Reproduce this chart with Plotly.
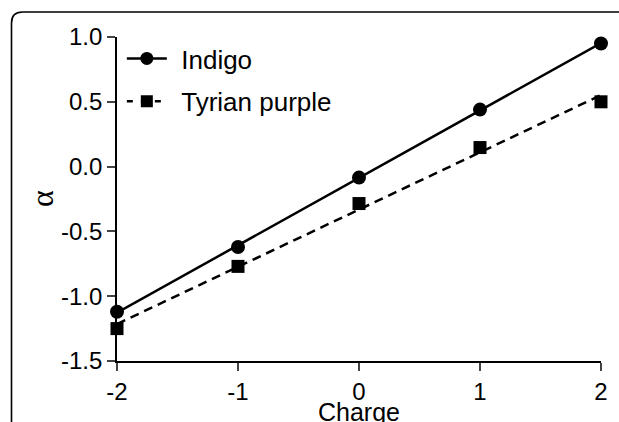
import numpy as np
import plotly.graph_objects as go

charge = [-2, -1, 0, 1, 2]
indigo = [-1.12, -0.62, -0.085, 0.44, 0.95]
tyrian = [-1.25, -0.77, -0.285, 0.147, 0.50]
x_ticks = [-2, -1, 0, 1, 2]
x_labels = ["-2", "-1", "0", "1", "2"]
y_ticks = [-1.5, -1.0, -0.5, 0.0, 0.5, 1.0]
y_labels = ["-1.5", "-1.0", "-0.5", "0.0", "0.5", "1.0"]
x_title = "Charge"
y_title = "α"

W, H = 619, 422
ML, MR, MT, MB = 117, 18, 37, 61
FONT = "Liberation Sans, Arial, sans-serif"
FS = 24

def fit(x, y):
    k, b = np.polyfit(x, y, 1)
    xs = np.array([min(x), max(x)])
    return xs, k * xs + b

fig = go.Figure()
for name, ys, dash, sym, grp in [("Indigo", indigo, "solid", "circle", "a"),
                                 ("Tyrian purple", tyrian, "dash", "square", "b")]:
    fx, fy = fit(charge, ys)
    fig.add_trace(go.Scatter(x=fx, y=fy, mode="lines", showlegend=False,
                             line=dict(color="black", width=2.5, dash="9px,6px" if dash == "dash" else "solid"),
                             cliponaxis=False, hoverinfo="skip"))
    fig.add_trace(go.Scatter(x=charge, y=ys, mode="markers", showlegend=False,
                             marker=dict(symbol=sym, size=14 if sym == "circle" else 13, color="black"),
                             cliponaxis=False))
    fig.add_trace(go.Scatter(x=[None], y=[None], mode="lines+markers",
                             name="\u00a0\u200a" + name, legendgroup=grp,
                             line=dict(color="black", width=2.5, dash="6px,8px" if dash == "dash" else "solid"),
                             marker=dict(symbol=sym, size=13 if sym == "circle" else 12, color="black")))

# rounded frame around the figure (extends beyond the picture on right and bottom)
pw, ph = W - ML - MR, H - MT - MB
def px(x): return (x - ML) / pw
def py(y): return 1 - (y - MT) / ph
fl, ft, fr, fb, r = 11.5, 12, 640, 440, 11
path = (f"M {px(fl)} {py(fb)} L {px(fl)} {py(ft + r)} "
        f"Q {px(fl)} {py(ft)} {px(fl + r)} {py(ft)} L {px(fr)} {py(ft)}")
fig.add_shape(type="path", path=path, xref="paper", yref="paper",
              line=dict(color="black", width=1.6), layer="above")

fig.add_annotation(text=x_title, xref="paper", yref="paper", x=0.5, y=py(397),
                   xanchor="center", yanchor="top", showarrow=False,
                   font=dict(size=25, family=FONT), borderpad=0)
fig.add_annotation(text=y_title, xref="paper", yref="paper", x=px(42), y=0.5,
                   xanchor="center", yanchor="middle", showarrow=False, textangle=-90,
                   font=dict(size=32, family="Liberation Serif, serif"), borderpad=0)

fig.update_layout(
    width=W, height=H,
    margin=dict(l=ML, r=MR, t=MT, b=MB, pad=0, autoexpand=False),
    paper_bgcolor="white", plot_bgcolor="white",
    font=dict(family=FONT, size=FS, color="black"),
    showlegend=True,
    legend=dict(x=0.01, y=1.006, xanchor="left", yanchor="top",
                bgcolor="rgba(0,0,0,0)", font=dict(size=26, family=FONT),
                tracegroupgap=6, itemwidth=40),
    xaxis=dict(range=[-2, 2], tickvals=x_ticks, ticktext=x_labels, ticks="outside", ticklen=8,
               tickwidth=1.8, showline=True, linewidth=1.8, linecolor="black",
               showgrid=False, zeroline=False, tickfont=dict(size=FS), automargin=False),
    yaxis=dict(range=[-1.5, 1.0], tickvals=y_ticks, ticktext=y_labels, ticks="outside",
               ticklen=8, tickwidth=1.8, showline=True, linewidth=1.8, linecolor="black",
               showgrid=False, zeroline=False, tickfont=dict(size=FS), automargin=False),
)
fig.write_html("out.html")
